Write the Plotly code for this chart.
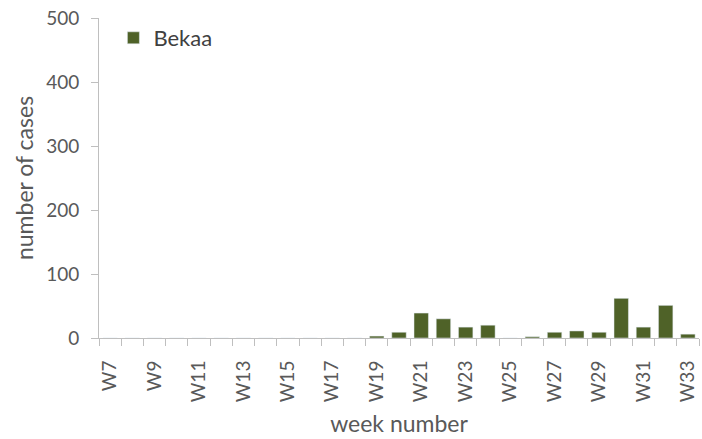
import plotly.graph_objects as go

weeks = [f"W{i}" for i in range(7, 34)]
bekaa = [0, 0, 0, 0, 0, 0, 0, 0, 0, 0, 0, 0, 3, 9, 39, 30, 17, 20, 0, 2, 9, 11, 9, 62, 17, 51, 6]
tick_text = [w if (i % 2 == 0) else "" for i, w in enumerate(weeks)]

fig = go.Figure()
fig.add_trace(go.Bar(x=weeks, y=bekaa, name="Bekaa", marker_color="#4f6228",
                     showlegend=True))

font = "Lato, 'Open Sans', sans-serif"
fig.update_layout(
    width=702, height=439,
    margin=dict(l=99, r=3, t=18, b=101),
    plot_bgcolor="white", paper_bgcolor="white",
    bargap=0.35,
    font=dict(family=font, size=19, color="#595959"),
    showlegend=True,
    legend=dict(x=0.024, y=0.9375, xanchor="left", yanchor="middle",
                bgcolor="rgba(0,0,0,0)", font=dict(size=22, color="#404040"),
                itemwidth=30),
    xaxis=dict(type="category", tickvals=weeks, ticktext=tick_text,
               tickangle=-90, tickson="boundaries", ticks="outside", ticklen=7,
               tickcolor="#bfbfbf", showline=True, linecolor="#bfbfbf",
               showgrid=False, automargin=False, ticklabelstandoff=14,
               title=dict(text="week number", standoff=14, font=dict(size=23))),
    yaxis=dict(range=[0, 500], dtick=100, ticks="outside", ticklen=7,
               tickcolor="#bfbfbf", showline=True, linecolor="#bfbfbf",
               showgrid=False, zeroline=False, automargin=False,
               ticklabelstandoff=8,
               title=dict(text="number of cases", standoff=6, font=dict(size=23))),
)

fig.write_html("out.html", config={"displayModeBar": False},
               post_script="document.body.style.margin='0';")
